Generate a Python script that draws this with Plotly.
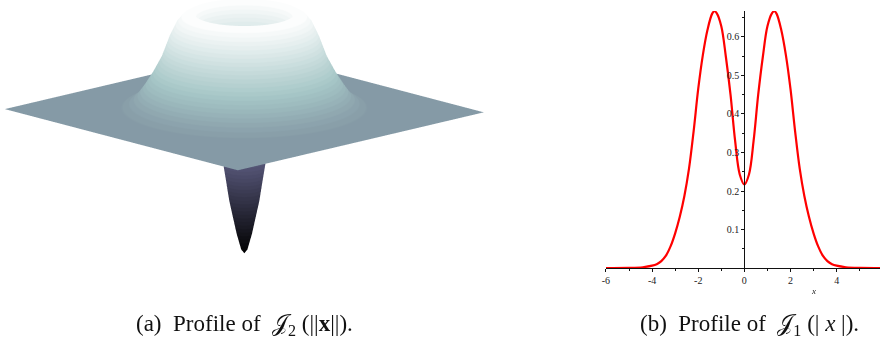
"""Two panels: revolved profile surface (a) and its 1D cross-section (b)."""

import numpy as np
import plotly.graph_objects as go

# (a) radial profile of the surface
RADIUS = [0, 0.11, 0.27, 0.53, 0.71, 0.89, 1.06, 1.24, 1.42, 1.6, 1.77, 1.95,
          2.2, 2.41, 2.66, 2.94, 3.26, 3.55, 3.83, 4.08, 4.33, 4.68, 5.14]
HEIGHT = [-5.21, -5.07, -4.5, -3.3, -2.16, -1.06, 0, 1.24, 2.3, 3.12, 3.55, 3.58,
          3.44, 3.19, 2.66, 1.91, 1.31, 0.85, 0.46, 0.25, 0.11, 0.02, 0]
HALF_SIDE = 6.0

# (b) right side of the symmetric curve, mirrored below
CURVE_X = [0, 0.2, 0.4, 0.6, 0.8, 1.0, 1.2, 1.3, 1.4, 1.6, 1.8, 2.0, 2.2, 2.4, 2.6,
           2.8, 3.0, 3.2, 3.4, 3.6, 3.8, 4.0, 4.4, 5.0, 5.88]
CURVE_Y = [0.217, 0.243, 0.33, 0.45, 0.548, 0.628, 0.662, 0.667, 0.66, 0.618, 0.553,
           0.465, 0.355, 0.258, 0.187, 0.133, 0.09, 0.056, 0.032, 0.018, 0.01, 0.006,
           0.002, 0.0003, 0]
LEFT_END = [-6.0]
X_TICKS = [-6, -4, -2, 0, 2, 4]
X_LABELS = ["-6", "-4", "-2", "0", "2", "4"]
Y_TICKS = [0.1, 0.2, 0.3, 0.4, 0.5, 0.6]
Y_LABELS = ["0.1", "0.2", "0.3", "0.4", "0.5", "0.6"]

CAPTION_A = "(a)  Profile of  𝒥<sub>2</sub> (||<b>x</b>||)."
CAPTION_B = "(b)  Profile of  𝒥<sub>1</sub> (| <i>x</i> |)."

# "bone" anchors, stepped to 64 levels: the reference shows the banding
BONE_AT = [0, 0.365, 0.746, 1]
BONE_R = [0, 81, 166, 255]
BONE_G = [0, 81, 199, 255]
BONE_B = [0, 113, 199, 255]
LEVELS = 64
SERIF = "Liberation Serif"
W, H = 880, 344
SCENE_SCALE = 2.707
PX_PER_UNIT = 125.0


def stepped_bone():
    scale = []
    for i in range(LEVELS):
        mid = (i + 0.5) / LEVELS
        rgb = [int(np.interp(mid, BONE_AT, c)) for c in (BONE_R, BONE_G, BONE_B)]
        color = f"rgb({rgb[0]},{rgb[1]},{rgb[2]})"
        scale += [[i / LEVELS, color], [(i + 1) / LEVELS, color]]
    return scale


theta = np.radians(np.arange(0, 361))
edge = HALF_SIDE / np.maximum(np.abs(np.cos(theta)), np.abs(np.sin(theta)))
rings = np.array(RADIUS + [0.0])[:, None] * np.ones_like(theta)
rings[-1] = edge  # outermost ring follows the square border
zs = np.array(HEIGHT + [0.0])[:, None] * np.ones_like(theta)

fig = go.Figure()
fig.add_trace(go.Surface(
    x=rings * np.cos(theta), y=rings * np.sin(theta), z=zs,
    surfacecolor=zs, colorscale=stepped_bone(), cmin=min(HEIGHT), cmax=max(HEIGHT),
    showscale=False, hoverinfo="skip",
    lighting={"ambient": 1, "diffuse": 0, "specular": 0, "fresnel": 0, "roughness": 1},
))

curve_x = LEFT_END + [-v for v in CURVE_X[-2:0:-1]] + CURVE_X
curve_y = [CURVE_Y[-1]] + CURVE_Y[-2:0:-1] + CURVE_Y
fig.add_trace(go.Scatter(x=curve_x, y=curve_y, mode="lines", cliponaxis=False,
                         line={"color": "#ff0000", "width": 2.2, "shape": "spline", "smoothing": 1},
                         hoverinfo="skip", showlegend=False))

az, el, dist = np.radians(46.55), np.radians(14.4), 2.0
shift = 3.0 / PX_PER_UNIT  # scene sits 3px right of where it should
cx, cy = -np.sin(az) * shift, np.cos(az) * shift
tick_font = {"family": SERIF, "size": 10, "color": "#222222"}
z_span = (max(HEIGHT) - min(HEIGHT)) / (2 * HALF_SIDE)
fig.update_layout(
    width=W, height=H, autosize=False, showlegend=False,
    paper_bgcolor="white", plot_bgcolor="white",
    margin={"l": 0, "r": 0, "t": 0, "b": 0},
    scene={
        "domain": {"x": [0, 489 / W], "y": [1 - 266 / H, 1]},
        "aspectmode": "manual",
        "aspectratio": {"x": SCENE_SCALE, "y": SCENE_SCALE, "z": SCENE_SCALE * z_span},
        "xaxis": {"visible": False}, "yaxis": {"visible": False}, "zaxis": {"visible": False},
        "bgcolor": "white",
        "camera": {
            "projection": {"type": "orthographic"},
            "center": {"x": cx, "y": cy, "z": 0},
            "eye": {"x": cx + dist * np.cos(el) * np.cos(az), "y": cy + dist * np.cos(el) * np.sin(az),
                    "z": dist * np.sin(el)},
            "up": {"x": 0, "y": 0, "z": 1},
        },
    },
    xaxis={
        "domain": [604.7 / W, 1], "range": [-6, 5.88], "anchor": "y",
        "showgrid": False, "zeroline": False, "showline": True, "linecolor": "#111111",
        "linewidth": 1, "ticks": "outside", "ticklen": 3, "tickcolor": "#111111",
        "tickvals": X_TICKS, "ticktext": X_LABELS, "tickfont": tick_font,
        "minor": {"dtick": 1, "tick0": 0, "ticks": "outside", "ticklen": 2, "tickcolor": "#111111"},
    },
    yaxis={
        "domain": [1 - 268 / H, 1 - 11 / H], "range": [0, 0.6675], "anchor": "free",
        "position": 743.7 / W, "showgrid": False, "zeroline": False, "showline": True,
        "linecolor": "#111111", "linewidth": 1, "ticks": "outside", "ticklen": 3,
        "tickcolor": "#111111", "tickvals": Y_TICKS, "ticktext": Y_LABELS, "tickfont": tick_font,
        "minor": {"dtick": 0.05, "tick0": 0, "ticks": "outside", "ticklen": 2, "tickcolor": "#111111"},
    },
    annotations=[
        {"text": CAPTION_A, "xref": "paper", "yref": "paper", "x": 242 / W, "y": 1 - 325 / H,
         "xanchor": "center", "yanchor": "middle", "showarrow": False,
         "font": {"family": SERIF, "size": 23, "color": "#111111"}},
        {"text": CAPTION_B, "xref": "paper", "yref": "paper", "x": 749 / W, "y": 1 - 325 / H,
         "xanchor": "center", "yanchor": "middle", "showarrow": False,
         "font": {"family": SERIF, "size": 23, "color": "#111111"}},
        {"text": "<i>x</i>", "xref": "paper", "yref": "paper", "x": 813 / W, "y": 1 - 291 / H,
         "xanchor": "center", "yanchor": "middle", "showarrow": False,
         "font": {"family": SERIF, "size": 9, "color": "#222222"}},
    ],
)

# the default page keeps an 8px body margin, which would shift everything
fig.write_html("out.html", config={"displayModeBar": False},
               post_script="document.body.style.margin='0';")
